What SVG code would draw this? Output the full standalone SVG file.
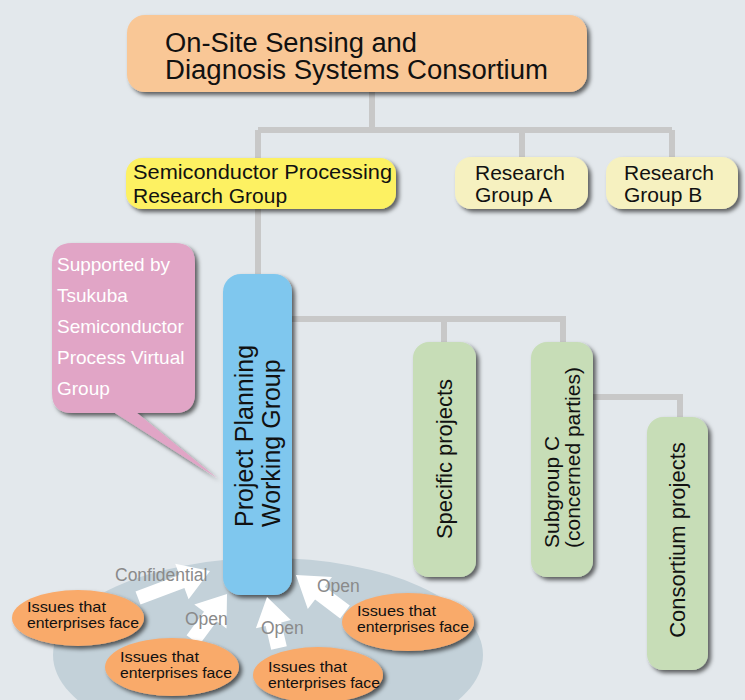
<svg xmlns="http://www.w3.org/2000/svg" width="745" height="700" viewBox="0 0 745 700">
<defs>
<filter id="sh" x="-20%" y="-20%" width="150%" height="150%">
<feDropShadow dx="3" dy="3" stdDeviation="2.2" flood-color="#000" flood-opacity="0.6"/>
</filter>
<style>
text{font-family:"Liberation Sans",Arial,Helvetica,sans-serif;fill:#111}
.conn{stroke:#c8c8c8;stroke-width:6;fill:none}
.t1{font-size:27px}
.t2{font-size:21px}
.tv{font-size:25px}
.tg{font-size:22px}
.tp{font-size:19px;fill:#fff}
.to{font-size:14.5px}
.tl{font-size:17.5px;fill:#8a8a8a}
.arr{fill:#fff}
</style>
</defs>
<rect width="745" height="700" fill="#e3e8ec"/>

<g id="connectors">
<path class="conn" d="M372 92 V130 M258 130 H672 M522 130 V158 M672 130 V158 M258 130 V158 M258 208 V275 M292 319 H563 V343 M444 319 V343 M593 397 H680 V418"/>
</g>

<g id="issues-area">
<ellipse cx="268" cy="655" rx="215" ry="97" fill="#c3d1d9"/>
</g>

<g id="top">
<rect x="127" y="15" width="460" height="77" rx="18" fill="#f9c796" filter="url(#sh)"/>
<text class="t1" x="165" y="52" textLength="252" lengthAdjust="spacingAndGlyphs">On-Site Sensing and</text>
<text class="t1" x="165" y="79" textLength="383" lengthAdjust="spacingAndGlyphs">Diagnosis Systems Consortium</text>
</g>

<g id="sprg">
<rect x="126" y="158" width="270" height="51" rx="16" fill="#fdf162" filter="url(#sh)"/>
<text class="t2" x="133" y="179" textLength="259" lengthAdjust="spacingAndGlyphs">Semiconductor Processing</text>
<text class="t2" x="133" y="203">Research Group</text>
</g>

<g id="groupA">
<rect x="455" y="157" width="133" height="52" rx="16" fill="#f6f1c0" filter="url(#sh)"/>
<text class="t2" x="475" y="180">Research</text>
<text class="t2" x="475" y="202">Group A</text>
</g>

<g id="groupB">
<rect x="606" y="157" width="132" height="52" rx="16" fill="#f6f1c0" filter="url(#sh)"/>
<text class="t2" x="624" y="180">Research</text>
<text class="t2" x="624" y="202">Group B</text>
</g>

<g id="callout">
<path d="M72 243 H175 Q195 243 195 263 V393 Q195 413 175 413 H137 L217 478 L115 413 H72 Q52 413 52 393 V263 Q52 243 72 243 Z" fill="#e1a5c6" filter="url(#sh)"/>
<text class="tp" x="57" y="271">Supported by</text>
<text class="tp" x="57" y="302">Tsukuba</text>
<text class="tp" x="57" y="333">Semiconductor</text>
<text class="tp" x="57" y="364">Process Virtual</text>
<text class="tp" x="57" y="395">Group</text>
</g>

<g id="ppwg">
<rect x="223" y="274" width="69" height="321" rx="18" fill="#7fc7ee" filter="url(#sh)"/>
<text class="tv" transform="translate(253,527) rotate(-90)">Project Planning</text>
<text class="tv" transform="translate(280,527) rotate(-90)">Working Group</text>
</g>

<g id="specific">
<rect x="413" y="342" width="63" height="235" rx="16" fill="#c7ddb7" filter="url(#sh)"/>
<text class="tg" text-anchor="middle" transform="translate(452,459) rotate(-90)">Specific projects</text>
</g>

<g id="subgroupC">
<rect x="531" y="342" width="62" height="235" rx="16" fill="#c7ddb7" filter="url(#sh)"/>
<text class="t2" transform="translate(559,548) rotate(-90)">Subgroup C</text>
<text class="t2" transform="translate(580,548) rotate(-90)">(concerned parties)</text>
</g>

<g id="consortium">
<rect x="647" y="417" width="61" height="253" rx="16" fill="#c7ddb7" filter="url(#sh)"/>
<text class="tg" text-anchor="middle" transform="translate(685,540) rotate(-90)">Consortium projects</text>
</g>

<g id="arrows">
<polygon class="arr" points="135.5,591.4 179.4,574.9 175.2,563.7 210,571 188.6,599.3 184.4,588.1 140.5,604.6"/>
<polygon class="arr" points="186.6,635.2 204,611.7 194.3,604.6 227,594 226.5,628.4 216.8,621.3 199.4,644.8"/>
<polygon class="arr" points="271.2,649.8 265.6,626 255.9,628.3 267,597 290.9,620.1 281.2,622.4 286.8,646.2"/>
<polygon class="arr" points="340.2,618.4 315.1,599.5 307.8,609.1 296,575 332,577.1 324.7,586.7 349.8,605.6"/>
<text class="tl" x="115" y="581">Confidential</text>
<text class="tl" x="185" y="625">Open</text>
<text class="tl" x="261" y="634">Open</text>
<text class="tl" x="317" y="592">Open</text>
</g>

<g id="issue1">
<ellipse cx="78" cy="618" rx="66" ry="28" fill="#f9aa6b" filter="url(#sh)"/>
<text class="to" x="27" y="611.5" textLength="79" lengthAdjust="spacingAndGlyphs">Issues that</text>
<text class="to" x="27" y="627.5" textLength="112" lengthAdjust="spacingAndGlyphs">enterprises face</text>
</g>
<g id="issue2">
<ellipse cx="172" cy="667" rx="67" ry="29" fill="#f9aa6b" filter="url(#sh)"/>
<text class="to" x="120" y="661.5" textLength="79" lengthAdjust="spacingAndGlyphs">Issues that</text>
<text class="to" x="120" y="677.5" textLength="112" lengthAdjust="spacingAndGlyphs">enterprises face</text>
</g>
<g id="issue3">
<ellipse cx="318" cy="675" rx="65" ry="28" fill="#f9aa6b" filter="url(#sh)"/>
<text class="to" x="268" y="671.5" textLength="79" lengthAdjust="spacingAndGlyphs">Issues that</text>
<text class="to" x="268" y="687.5" textLength="112" lengthAdjust="spacingAndGlyphs">enterprises face</text>
</g>
<g id="issue4">
<ellipse cx="408" cy="622" rx="66" ry="29" fill="#f9aa6b" filter="url(#sh)"/>
<text class="to" x="357" y="615.5" textLength="79" lengthAdjust="spacingAndGlyphs">Issues that</text>
<text class="to" x="357" y="631.5" textLength="112" lengthAdjust="spacingAndGlyphs">enterprises face</text>
</g>
</svg>
